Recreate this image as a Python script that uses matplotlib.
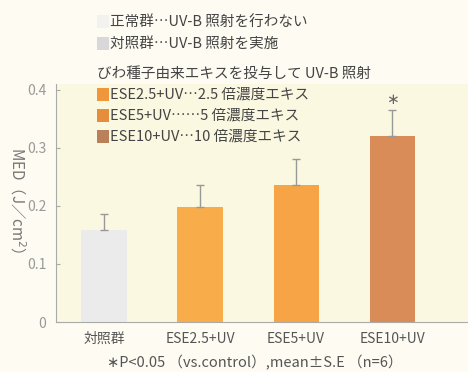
import matplotlib
matplotlib.use("Agg")
import matplotlib.pyplot as plt
from matplotlib.patches import Rectangle

plt.rcParams['font.family'] = ['Noto Sans CJK JP', 'DejaVu Sans']

# MED values per group (mean and S.E.)
groups = ['対照群', 'ESE2.5+UV', 'ESE5+UV', 'ESE10+UV']
med = [0.159, 0.198, 0.236, 0.320]
se = [0.027, 0.038, 0.045, 0.046]
bar_colors = ['#ecebeb', '#f9ad4a', '#f7a446', '#d98b58']

legend_lines = ['正常群…UV-B 照射を行わない',
                '対照群…UV-B 照射を実施',
                'びわ種子由来エキスを投与して UV-B 照射',
                'ESE2.5+UV…2.5 倍濃度エキス',
                'ESE5+UV……5 倍濃度エキス',
                'ESE10+UV…10 倍濃度エキス']
legend_colors = ['#f3f2ee', '#d9d8d8', None, '#f0973c', '#e58d3a', '#b9805a']

fig = plt.figure(figsize=(4.68, 3.72), dpi=100, facecolor='#fdfbf2')
ax = fig.add_axes([56 / 468, 1 - 322 / 372, 1 - 56 / 468, 238 / 372])
ax.set_facecolor('#fbf8e1')

x = range(len(groups))
ax.bar(x, med, width=0.47, color=bar_colors, zorder=2)
ax.errorbar(x, med, yerr=[[0] * len(se), se], fmt='none', ecolor='#999999',
            elinewidth=1, capsize=3.2, capthick=1, zorder=3)
ax.text(3, med[3] + se[3] + 0.018, '∗', ha='center', va='center',
        fontsize=11, color='#666666')

ax.set_xlim(-0.5, 3.79)
ax.set_ylim(0, 0.41)
ax.set_yticks([0, 0.1, 0.2, 0.3, 0.4])
ax.set_yticklabels(['0', '0.1', '0.2', '0.3', '0.4'])
ax.set_xticks(list(x))
ax.set_xticklabels(groups)
ax.tick_params(axis='y', direction='in', length=3, color='#aaaaaa',
               labelcolor='#999999', labelsize=10, pad=7)
ax.tick_params(axis='x', length=0, labelcolor='#555555', labelsize=10, pad=7)
for side in ['top', 'right']:
    ax.spines[side].set_visible(False)
ax.spines['left'].set_color('#aaaaaa')
ax.spines['bottom'].set_color('#aaaaaa')
ax.spines['bottom'].set_linestyle((0, (1.5, 1)))

fig.text(17 / 468, 1 - 200 / 372, 'MED（J／cm$^2$）', rotation=-90,
         ha='center', va='center', fontsize=11, color='#777777')
fig.text(255 / 468, 1 - 363 / 372, '∗P<0.05 （vs.control）,mean±S.E （n=6）',
         ha='center', va='center', fontsize=10.5, color='#555555')

# legend block
ys = [22, 44, 74, 95, 116, 137]
for line, col, yy in zip(legend_lines, legend_colors, ys):
    if col is None:
        fig.text(97 / 468, 1 - yy / 372, line, ha='left', va='center',
                 fontsize=10.5, color='#444444')
        continue
    fig.patches.append(Rectangle((97 / 468, 1 - (yy + 6) / 372), 12 / 468, 13 / 372,
                                 transform=fig.transFigure, facecolor=col,
                                 edgecolor='none'))
    fig.text(110 / 468, 1 - yy / 372, line, ha='left', va='center',
             fontsize=10.5, color='#444444')

fig.savefig('out.png', dpi=100, facecolor=fig.get_facecolor())
